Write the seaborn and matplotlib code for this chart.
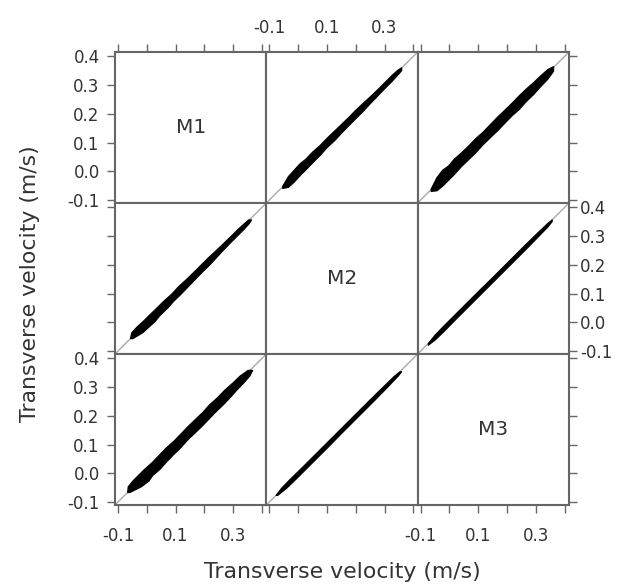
import matplotlib
matplotlib.use("Agg")
import matplotlib.pyplot as plt
import seaborn as sns

# Variables of the scatterplot matrix
variables = ["M1", "M2", "M3"]
axis_title = "Transverse velocity (m/s)"
tick_values = [-0.1, 0.0, 0.1, 0.2, 0.3, 0.4]
x_tick_labels = ["-0.1", "", "0.1", "", "0.3", ""]
y_tick_labels = ["-0.1", "0.0", "0.1", "0.2", "0.3", "0.4"]
limits = (-0.11, 0.415)

# Point cloud of M1 against M2: range of M1 observed along M2
m12_grid = [-0.055, -0.035, -0.015, 0.005, 0.025, 0.05, 0.075, 0.10, 0.125, 0.15, 0.175, 0.20,
            0.225, 0.25, 0.275, 0.30, 0.325, 0.345, 0.358]
m12_lo = [-0.058, -0.054, -0.036, -0.014, 0.006, 0.032, 0.057, 0.085, 0.108, 0.135, 0.161, 0.186,
          0.211, 0.238, 0.264, 0.290, 0.315, 0.337, 0.352]
m12_hi = [-0.050, -0.016, 0.006, 0.028, 0.044, 0.070, 0.092, 0.118, 0.142, 0.166, 0.190, 0.216,
          0.239, 0.262, 0.286, 0.311, 0.336, 0.354, 0.362]

# Point cloud of M1 against M3: range of M1 observed along M3
m13_grid = [-0.065, -0.045, -0.025, -0.005, 0.015, 0.04, 0.065, 0.09, 0.115, 0.14, 0.165, 0.19,
            0.215, 0.24, 0.265, 0.29, 0.315, 0.34, 0.36]
m13_lo = [-0.068, -0.066, -0.050, -0.030, -0.010, 0.018, 0.042, 0.066, 0.094, 0.118, 0.142, 0.168,
          0.194, 0.216, 0.244, 0.268, 0.296, 0.322, 0.350]
m13_hi = [-0.060, -0.020, 0.006, 0.020, 0.044, 0.066, 0.090, 0.116, 0.138, 0.164, 0.190, 0.214,
          0.238, 0.264, 0.288, 0.310, 0.334, 0.356, 0.366]

# Point cloud of M2 against M3: range of M2 observed along M3
m23_grid = [-0.075, -0.05, -0.02, 0.02, 0.06, 0.10, 0.14, 0.18, 0.22, 0.26, 0.30, 0.34, 0.355]
m23_lo = [-0.078, -0.059, -0.030, 0.011, 0.051, 0.091, 0.131, 0.171, 0.211, 0.251, 0.292, 0.333, 0.352]
m23_hi = [-0.072, -0.041, -0.010, 0.030, 0.070, 0.110, 0.149, 0.189, 0.229, 0.269, 0.308, 0.346, 0.358]

# (row var, column var) -> (grid along column var, band of row var)
bands = {
    (0, 1): (m12_grid, m12_lo, m12_hi),
    (0, 2): (m13_grid, m13_lo, m13_hi),
    (1, 2): (m23_grid, m23_lo, m23_hi),
}

sns.set_theme(style="white")
plt.rcParams["font.family"] = ["DejaVu Sans"]

frame_color = "#666666"
text_color = "#333333"

fig = plt.figure(figsize=(6.2, 5.86), dpi=100)
axes = fig.subplots(
    3, 3,
    gridspec_kw=dict(left=115 / 620, right=569 / 620,
                     bottom=1 - 505 / 586, top=1 - 52 / 586,
                     wspace=0, hspace=0),
)

for r in range(3):
    for c in range(3):
        ax = axes[r, c]
        ax.set_xlim(limits)
        ax.set_ylim(limits)

        if r == c:
            ax.text(0.5, 0.5, variables[r], transform=ax.transAxes,
                    ha="center", va="center", fontsize=14.5, color=text_color)
        else:
            ax.axline((0, 0), slope=1, color="#aaaaaa", lw=1.0, zorder=1)
            if r < c:
                grid, lo, hi = bands[(r, c)]
                ax.fill_between(grid, lo, hi, color="black", lw=0.8,
                                edgecolor="black", zorder=2)
            else:
                grid, lo, hi = bands[(c, r)]
                ax.fill_betweenx(grid, lo, hi, color="black", lw=0.8,
                                 edgecolor="black", zorder=2)

        ax.set_xticks(tick_values)
        ax.set_yticks(tick_values)
        ax.set_xticklabels(x_tick_labels)
        ax.set_yticklabels(y_tick_labels)
        ax.tick_params(axis="both", direction="out", length=6, width=1.0,
                       color=frame_color, labelsize=12, labelcolor=text_color)
        ax.tick_params(axis="x", bottom=(r == 2), top=(r == 0),
                       labelbottom=(r == 2 and c in (0, 2)),
                       labeltop=(r == 0 and c == 1),
                       pad=(5 if r == 0 else 10))
        ax.tick_params(axis="y", left=(c == 0), right=(c == 2),
                       labelleft=(c == 0 and r in (0, 2)),
                       labelright=(c == 2 and r == 1),
                       pad=(5 if c == 0 else 2))
        for sp in ax.spines.values():
            sp.set_color(frame_color)
            sp.set_linewidth(1.5)
        ax.grid(False)

fig.text(342 / 620, 1 - 572 / 586, axis_title, ha="center", va="center",
         fontsize=15.8, color=text_color)
fig.text(30 / 620, 1 - 284 / 586, axis_title, ha="center", va="center",
         rotation=90, fontsize=15.8, color=text_color)

fig.savefig("out.png", dpi=100, facecolor="white")
